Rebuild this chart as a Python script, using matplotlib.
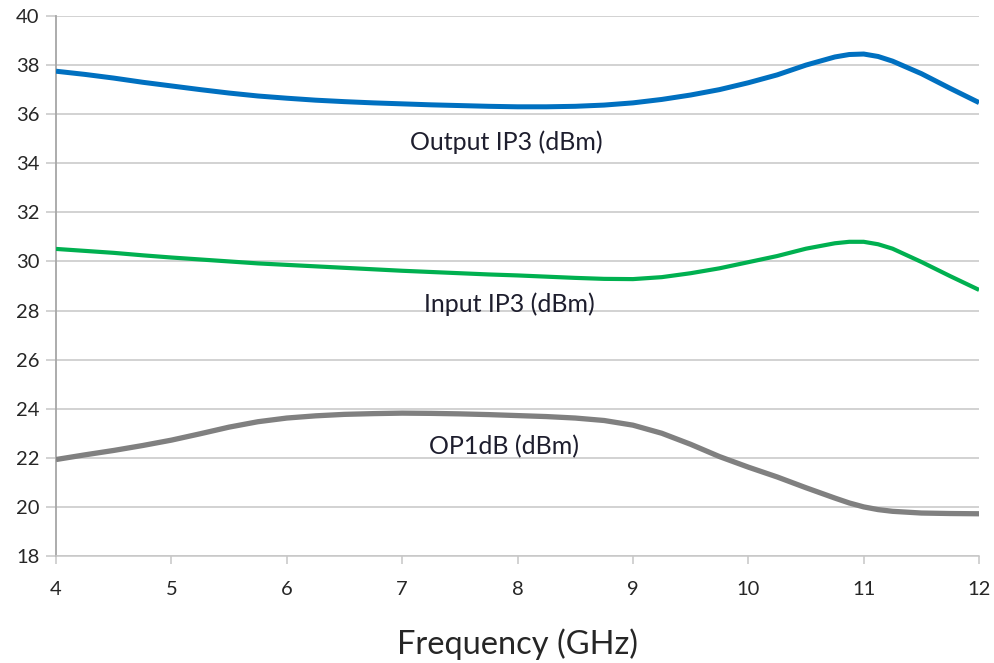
import numpy as np
import matplotlib
matplotlib.use("Agg")
import matplotlib.pyplot as plt

freq = [4.0, 4.25, 4.5, 4.75, 5.0, 5.25, 5.5, 5.75, 6.0, 6.25, 6.5, 6.75, 7.0, 7.25, 7.5, 7.75,
        8.0, 8.25, 8.5, 8.75, 9.0, 9.25, 9.5, 9.75, 10.0, 10.25, 10.5, 10.75, 10.875, 11.0, 11.125,
        11.25, 11.5, 11.75, 12.0]

output_ip3 = [37.75, 37.62, 37.47, 37.30, 37.15, 37.00, 36.86, 36.74, 36.65, 36.57, 36.51, 36.46,
              36.42, 36.38, 36.35, 36.32, 36.30, 36.30, 36.32, 36.37, 36.46, 36.60, 36.78, 37.00,
              37.28, 37.60, 38.00, 38.33, 38.43, 38.45, 38.35, 38.16, 37.65, 37.05, 36.47]

input_ip3 = [30.51, 30.43, 30.35, 30.25, 30.16, 30.08, 30.00, 29.92, 29.86, 29.80, 29.74, 29.68,
             29.62, 29.57, 29.52, 29.47, 29.43, 29.38, 29.33, 29.29, 29.28, 29.36, 29.52, 29.72,
             29.97, 30.22, 30.52, 30.74, 30.80, 30.80, 30.70, 30.52, 29.98, 29.40, 28.84]

op1db = [21.93, 22.12, 22.30, 22.50, 22.72, 22.98, 23.25, 23.47, 23.62, 23.71, 23.77, 23.80,
         23.82, 23.81, 23.79, 23.76, 23.72, 23.68, 23.62, 23.52, 23.33, 23.00, 22.55, 22.05,
         21.62, 21.22, 20.78, 20.36, 20.16, 20.00, 19.89, 19.82, 19.75, 19.73, 19.72]

xticks = [4, 5, 6, 7, 8, 9, 10, 11, 12]
yticks = [18, 20, 22, 24, 26, 28, 30, 32, 34, 36, 38, 40]

font = ["Lato", "DejaVu Sans"]
plt.rcParams['font.family'] = font

fig = plt.figure(figsize=(9.95, 6.63), dpi=100)
ax = fig.add_axes([0.0563, 0.1614, 0.9277, 0.8145])

ax.plot(freq, output_ip3, color="#0070C0", lw=3.6, solid_capstyle="butt", solid_joinstyle="round", zorder=3)
ax.plot(freq, input_ip3, color="#00B050", lw=3.0, solid_capstyle="butt", solid_joinstyle="round", zorder=3)
ax.plot(freq, op1db, color="#808080", lw=3.8, solid_capstyle="butt", solid_joinstyle="round", zorder=3)

ax.set_xlim(4, 12)
ax.set_ylim(18, 40)
ax.set_xticks(xticks)
ax.set_yticks(yticks)
ax.set_xticklabels([str(v) for v in xticks])
ax.set_yticklabels([str(v) for v in yticks])

ax.grid(axis="y", color="#c6c6c6", lw=1.1, zorder=0)
ax.set_axisbelow(True)
for s in ["top", "right"]:
    ax.spines[s].set_visible(False)
ax.spines["left"].set_color("#a6a6a6")
ax.spines["left"].set_linewidth(1.3)
ax.spines["bottom"].set_color("#c6c6c6")
ax.spines["bottom"].set_linewidth(1.1)

ax.tick_params(axis="y", direction="out", length=7, width=1.1, color="#c6c6c6",
               labelsize=14.5, labelcolor="#262626", pad=5)
ax.tick_params(axis="x", direction="out", length=6, width=1.1, color="#c6c6c6",
               labelsize=14.5, labelcolor="#262626", pad=12)

ax.set_xlabel("Frequency (GHz)", fontsize=23.5, color="#262626", labelpad=22)

ax.text(7.9, 34.85, "Output IP3 (dBm)", fontsize=18, color="#1e1e2e", ha="center", va="center")
ax.text(7.93, 28.25, "Input IP3 (dBm)", fontsize=18, color="#1e1e2e", ha="center", va="center")
ax.text(7.88, 22.45, "OP1dB (dBm)", fontsize=18, color="#1e1e2e", ha="center", va="center")

fig.savefig("out.png", dpi=100)
